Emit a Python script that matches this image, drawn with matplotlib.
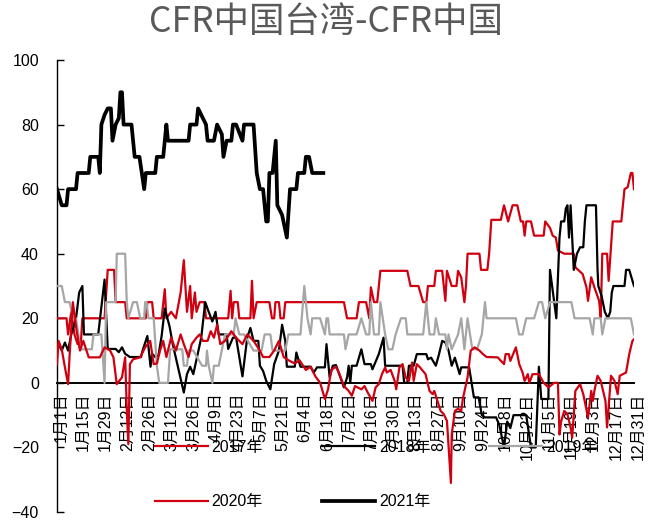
import matplotlib
matplotlib.use("Agg")
import matplotlib.pyplot as plt
from matplotlib.transforms import ScaledTranslation

plt.rcParams['font.family'] = ['Liberation Sans', 'Noto Sans CJK SC']

# ---------------- data (day of year offset, value) ----------------
tick_days = list(range(0, 365, 14))
tick_labels = ["1月1日", "1月15日", "1月29日", "2月12日", "2月26日", "3月12日", "3月26日",
               "4月9日", "4月23日", "5月7日", "5月21日", "6月4日", "6月18日", "7月2日",
               "7月16日", "7月30日", "8月13日", "8月27日", "9月10日", "9月24日", "10月8日",
               "10月22日", "11月5日", "11月19日", "12月3日", "12月17日", "12月31日"]

s2017 = [(0,20),(6,20),(7,15),(9,22),(11,15),(13,12),(15,12),(16,20),(30,20),(32,35),
         (36,35),(37,25),(43,25),(44,20),(56,20),(57,25),(60,25),(61,20),(66,20),(68,29),
         (69,20),(72,22),(75,20),(78,28),(80,38),(82,22),(84,30),(85,20),(87,28),(88,22),
         (90,25),(93,25),(94,20),(108,20),(109.5,28.5),(110.5,20),(111.5,25),(114,25),(115,20),(122,20),
         (123,31.6),(124,20),(126,25),(134,25),(135.6,20),(137,20),(137.8,25),(140,25),(141,20),(143,20),
         (144,25),(181,25),(183,20),(189,20),(190.5,25),(195,25),(197,20),(198,29.6),(200,25),(202,25),
         (204,34.7),(221,34.7),(223,30),(228,30),(231,25),(233,25),(234,30),(238,30),(239,34.7),(243,34.7),
         (245,25.4),(246,34.7),(249,30),(252,30),(253,34.7),(255,32.7),(257,25),(258,30),(259,40),(266.5,40),
         (267.5,35),(271.5,35),(272.6,40),(274,50.5),(280,50.5),(282,55),(284.6,50),(287.4,55),(290.4,55),(292.6,50),
         (294,50),(295,45.6),(296,50),(299,50),(301,45.6),(307,45.6),(308,50),(311,48),(312.7,45.6),(314.7,45),
         (316,41),(320,40),(326,40),(327,35.8),(331.6,33.7),(334,29.6),(335,25.4),(337,32.7),(339,29.6),(342,25.4),
         (343,20.3),(344,40),(347,40),(348,31.6),(350.6,50),(356,50),(358,60),(360,60.6),(362,65),(363,65),(364,60)]

s2018 = [(0,13),(3,10),(5,12.5),(7,10),(9,15),(12,20),(14,28),(16,30),(17,15),(26,15),
         (30,32),(32,10.5),(37,10.5),(39,9.5),(41,11),(43,9),(46,8),(53,8),(54,10),(57,14.5),
         (59,5),(60,9),(62,8),(64,8.5),(66,14.5),(68,23),(71,17.5),(73,12),(80,-3),(82,2.7),
         (84,5),(86,2.7),(91,14),(93.5,25),(95.7,22),(98,19),(100,22),(102,15),(107,15),(108,10.5),
         (111,14),(113,14),(117,2),(120,14),(122,17),(124,13),(127,13),(128,5.3),(130,3.7),(132,0.6),
         (134.6,-2),(137,5.8),(140,10),(142,18),(144,13),(145,5),(150,5),(151,9.4),(153.6,5),(160,5),
         (162,3.2),(164,4.8),(169,4.8),(170,12),(172,1.7),(174,5.3),(176,5.5),(181,-1.4),(183,1.7),(184,5.3),
         (185,0),(186,5.3),(189,5.3),(192,10.4),(194,5.8),(198,5.8),(199,4.2),(203,8.9),(206,14),(207,5.3),
         (218,5.3),(219,0),(221,0),(222,5.3),(225,5.3),(227,8.9),(233,8.9),(234,7.3),(236,7.8),(239,5.3),
         (241,8.9),(243,13),(245,12.5),(247,10),(249,5.3),(251,7.8),(254,2.7),(255,4.8),(260,4.8),(263,-4.5),
         (266,-4.5),(268,-10),(270,-10.7),(277,-10.7),(279,-13),(282,-20),(284,-12),(286,-14),(288,-10),(296,-10),
         (299,-20),(302,-20),(304,5),(305.5,-5),(310,-5),(311,35),(313,27.5),(315,20),(317,45),(318,50),
         (320,50),(321,54),(322,55),(323,45),(324,55),(325,45),(326,35),(328,40),(330,42),(332,42),
         (333,50),(334,55),(340,55),(341,35),(341.5,30),(343.5,27),(345.6,22),(347.5,20),(349,22),(350,28),
         (351,30),(358,30),(359,35),(361,35),(364,30)]

s2019 = [(0,30),(3,30),(5,25),(8,25),(10,20),(12,20),(13.5,15),(14.5,10.4),(22,10.4),(23,15),
         (28,15),(30,0),(31,25),(37,25),(37.7,40),(43,40),(44,25),(45,20),(48,25),(50.4,25),
         (52.5,20),(55,20),(55.6,25),(56.5,25),(57.7,20),(61,20),(63,5.3),(64.5,0),(70,0),(71.4,10.4),
         (79,10.4),(80,5.3),(82,5.3),(83,10),(86,10),(91.5,5.3),(94,5.3),(94.6,10),(95.7,5.3),(98,0),
         (99,5.3),(102,5.3),(106,15),(111.5,15),(112.6,20),(115,15),(118,15),(124,10),(129,10),(131,15),
         (134.6,15),(136,10),(144,10),(146,15),(153.6,15),(156,30),(158,20),(160,15),(161,20),(166,20),
         (169,15),(170,20),(171,20),(172,15),(181,15),(182,10.4),(184,15),(189,15),(192,20),(195,15),
         (197,15),(198,25),(200,15),(203,15),(204,25),(207,15),(209,10.4),(211.6,10.4),(213.6,15),(217,20),
         (220,20),(221,15),(231,15),(233,25),(235,15),(238,15),(239,20),(241,15),(245,15),(246,10.4),
         (247,15),(249,10.4),(253,15),(255,20),(257,10.4),(259,20),(262,10.4),(265,10.4),(268,15),(270,25),
         (271,20),(289.5,20),(291.5,15),(293.7,15),(296,20),(301,20),(304,25),(306,25),(308,20),(311,25),
         (324.5,25),(326.5,20),(336,20),(338,15),(339,20),(343,20),(344,15),(346,20),(362,20),(364,15)]

s2020 = [(0,5.8),(1,13),(3,10.4),(5,4.8),(7,-0.4),(8,8.9),(10,25),(12.4,16),(14.5,10),(16.6,13),
         (20,7.9),(27,7.9),(30,11),(33.5,10),(35.6,7.9),(37.7,-0.4),(41,1.7),(43,7.9),(44,-8),(45,-19),
         (46,5.8),(48,7.3),(52.5,7.9),(55.6,11),(58.8,13),(61,5.8),(63,6),(65,10),(67,13),(69,8),
         (72,14),(75,10),(78,15),(80,12),(83,8),(85,12),(88,14),(90,15),(92,13),(95,13),
         (97,16),(99,14),(101,18),(103,12),(106,13),(110,16),(113,14),(117,12),(120,15),(124,13),
         (128,10),(130,8),(134,8),(137,10),(140,13),(143,8),(146,7),(150,6),(153,7),(157,4),
         (160,5),(163,2),(166,0),(169,-5),(171,-2),(173,4),(176,5),(178,3),(181,-1),(184,-2.5),
         (186,-4),(188,-1),(192,-2),(194,-1),(196,-3),(199,-5.6),(201,-1.4),(203,-0.4),(205,2.7),(207,4.8),
         (208,3.2),(210.5,4),(213,0.6),(214,-2),(216,4.8),(218,5.8),(220,1.7),(222,0.6),(224,6.3),(225,0.6),
         (227,5.8),(229,4.8),(232.5,2.7),(235,-2.5),(237,-3.5),(238,-2.5),(240,-5.6),(242,-8.7),(244,-9.7),(246,-11.8),
         (248.5,-31),(249,-16),(251,-8.7),(253,-8),(255,-8.7),(256,-5),(259,1.7),(261,10),(263.5,11),(266.5,10),
         (268.5,9),(271,8),(278,7.9),(282,5.8),(283,8.9),(285,8.9),(286,6.8),(289.5,11),(291.6,5.8),(293.7,3.2),
         (295,0.6),(297,2.7),(298,0),(300,2.7),(304,2.7),(307,0),(310,-1.4),(313.7,0),(316,0),(317,-16),
         (318,-12),(320,-8.7),(322,-9.7),(324,-13.8),(325,-17),(327,-2.5),(330,-0.4),(332,-3.5),(335,-10.7),(337,-2.5),
         (338,-5.6),(339,-2.5),(341,2.2),(343,0.6),(346,-5.6),(347,-13.8),(349.5,2.2),(351.7,0.6),(353.7,-3.5),(355,2.2),
         (357,2.7),(359,3.2),(361,8.9),(363,13),(364,13.5)]

s2021 = [(0,60),(3,55),(6,55),(7,60),(12,60),(13,65),(20,65),(21,70),(26,70),(27,65),
         (28,80),(30,83),(32,85),(34,85),(35,75),(37,80),(39,82),(40,90),(41,90),(42,80),
         (47,80),(49,70),(52,70),(55,60),(56,65),(62,65),(63,70),(67,70),(69,80),(70,75),
         (83,75),(84,80),(88,80),(89,85),(94,80),(95,75),(99,75),(101,80),(104,77),(105,70),
         (107,75),(110,75),(111,80),(113,80),(117,75),(118,80),(124,80),(126,65),(128,60),(130,60),
         (132,50),(133,50),(134,65),(136,65),(138,75),(139,55),(142,52),(145,45),(147,60),(151,60),
         (152,65),(156,65),(157,70),(159,70),(161,65),(168,65)]

series_names = ["2017年", "2018年", "2019年", "2020年", "2021年"]
series_data = [s2017, s2018, s2019, s2020, s2021]

RED = "#D00010"
BLACK = "#000000"
GRAY = "#A6A6A6"
styles = [(RED, 1.6), (BLACK, 1.6), (GRAY, 1.6), (RED, 1.6), (BLACK, 2.7)]

# ---------------- figure ----------------
fig = plt.figure(figsize=(6.51, 5.22), dpi=100)
ax = fig.add_axes([57/651, 1-512/522, (634-57)/651, (512-60)/522])

handles = []
for name, data, (c, lw) in zip(series_names, series_data, styles):
    xs = [p[0] for p in data]
    ys = [p[1] for p in data]
    h, = ax.plot(xs, ys, color=c, lw=lw, label=name, zorder=3)
    handles.append(h)

ax.set_xlim(0, 364)
ax.set_ylim(-40, 100)
ax.spines['top'].set_visible(False)
ax.spines['right'].set_visible(False)
ax.spines['bottom'].set_position(('data', 0))
ax.spines['bottom'].set_linewidth(1.4)
ax.spines['left'].set_linewidth(1.0)
ax.spines['bottom'].set_zorder(2)

ax.set_yticks(range(-40, 101, 20))
ax.tick_params(axis='y', direction='in', length=5, width=1, pad=13, labelsize=11.5)
ax.set_xticks(tick_days)
ax.set_xticklabels(tick_labels, rotation=90)
ax.tick_params(axis='x', length=0, pad=7, labelsize=11.5)
off = ScaledTranslation(4/100, 0, fig.dpi_scale_trans)
for lab in ax.get_xticklabels():
    lab.set_transform(lab.get_transform() + off)

fig.text(0.5, 1-22/522, "CFR中国台湾-CFR中国", ha='center', va='center',
         fontsize=25.5, color='#595959', family=['Noto Sans CJK SC', 'DejaVu Sans'])

order = [0, 3, 1, 4, 2]
fig.legend([handles[i] for i in order], [series_names[i] for i in order],
           ncol=3, loc='upper left', bbox_to_anchor=(155/651, 1-440/522),
           frameon=False, fontsize=11.5, handlelength=3.3, handletextpad=0.25,
           columnspacing=3.7, labelspacing=2.45, borderpad=0, borderaxespad=0)

fig.savefig("out.png", dpi=100)
